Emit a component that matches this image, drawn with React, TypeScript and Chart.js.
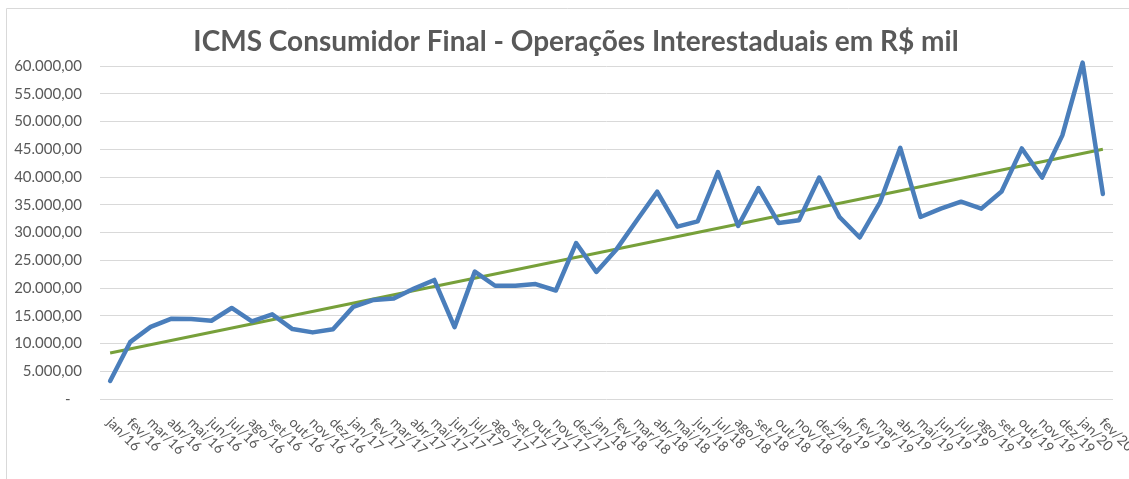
import React, { useEffect, useRef } from "react";
import { Chart, registerables } from "chart.js";

Chart.register(...registerables);

const chartTitle = "ICMS Consumidor Final - Operações Interestaduais em R$ mil";

const months = [
  "jan/16", "fev/16", "mar/16", "abr/16", "mai/16", "jun/16", "jul/16", "ago/16", "set/16", "out/16", "nov/16", "dez/16",
  "jan/17", "fev/17", "mar/17", "abr/17", "mai/17", "jun/17", "jul/17", "ago/17", "set/17", "out/17", "nov/17", "dez/17",
  "jan/18", "fev/18", "mar/18", "abr/18", "mai/18", "jun/18", "jul/18", "ago/18", "set/18", "out/18", "nov/18", "dez/18",
  "jan/19", "fev/19", "mar/19", "abr/19", "mai/19", "jun/19", "jul/19", "ago/19", "set/19", "out/19", "nov/19", "dez/19",
  "jan/20", "fev/20",
];

const icmsValues = [
  3250, 10300, 13000, 14450, 14400, 14100, 16400, 14000, 15250, 12600, 12000, 12550,
  16600, 17850, 18100, 19900, 21450, 12950, 22950, 20400, 20400, 20700, 19550, 28100,
  22900, 27000, 32200, 37350, 31050, 32000, 40900, 31200, 38000, 31700, 32200, 39900,
  32800, 29100, 35450, 45250, 32800, 34300, 35550, 34300, 37400, 45150, 39900, 47500,
  60600, 36950,
];

const trendStart = 8300;
const trendEnd = 45000;

const yTicks = [0, 5000, 10000, 15000, 20000, 25000, 30000, 35000, 40000, 45000, 50000, 55000, 60000];

function formatBR(v: number): string {
  if (v === 0) return "-   ";
  const intPart = Math.round(v).toString().replace(/\B(?=(\d{3})+(?!\d))/g, ".");
  return intPart + ",00";
}

const textColor = "#595959";
const gridColor = "#d9d9d9";

const decorPlugin = {
  id: "decor",
  beforeDraw(chart: any) {
    const ctx = chart.ctx;
    ctx.save();
    ctx.strokeStyle = gridColor;
    ctx.lineWidth = 1;
    ctx.beginPath();
    ctx.moveTo(6.5, chart.height);
    ctx.lineTo(6.5, 8.5);
    ctx.lineTo(chart.width, 8.5);
    ctx.stroke();
    ctx.restore();
  },
  afterDraw(chart: any) {
    const ctx = chart.ctx;
    const xScale = chart.scales.x;
    ctx.save();
    // title
    ctx.fillStyle = textColor;
    ctx.font = "bold 28px Lato";
    ctx.textAlign = "center";
    ctx.textBaseline = "middle";
    ctx.fillText(chartTitle, 576, 42);
    // rotated x labels
    ctx.font = "14px Lato";
    ctx.textAlign = "left";
    ctx.textBaseline = "middle";
    const baseY = chart.chartArea.bottom + 21;
    months.forEach((label, i) => {
      const x = xScale.getPixelForTick(i);
      ctx.save();
      ctx.translate(x - 1, baseY);
      ctx.rotate(Math.PI / 4);
      ctx.fillText(label, 0, 0);
      ctx.restore();
    });
    ctx.restore();
  },
};

export default function App() {
  const canvasRef = useRef<HTMLCanvasElement | null>(null);

  useEffect(() => {
    if (!canvasRef.current) return;
    const trendData = months.map((_, i) =>
      i === 0 ? trendStart : i === months.length - 1 ? trendEnd : null
    );
    const chart = new Chart(canvasRef.current, {
      type: "line",
      data: {
        labels: months,
        datasets: [
          {
            label: "ICMS",
            data: icmsValues,
            borderColor: "#4a7ebb",
            borderWidth: 4.5,
            pointRadius: 0,
            tension: 0,
            fill: false,
            clip: false as any,
            borderJoinStyle: "round",
            borderCapStyle: "round",
          },
          {
            label: "Tendência",
            data: trendData,
            borderColor: "#77a03a",
            borderWidth: 3,
            pointRadius: 0,
            spanGaps: true,
            fill: false,
            clip: false as any,
          },
        ],
      },
      options: {
        animation: false,
        responsive: false,
        maintainAspectRatio: false,
        events: [],
        layout: { padding: { left: 0, right: 16, top: 66, bottom: 72 } },
        plugins: {
          legend: { display: false },
          title: { display: false },
          tooltip: { enabled: false },
        },
        scales: {
          x: {
            type: "category",
            offset: true,
            grid: { display: false },
            border: { display: false },
            ticks: { display: false },
          },
          y: {
            min: 0,
            max: 60000,
            afterFit: (scale: any) => {
              scale.width = 100;
            },
            afterBuildTicks: (scale: any) => {
              scale.ticks = yTicks.map((v) => ({ value: v }));
            },
            border: { display: false },
            grid: { color: gridColor, lineWidth: 1, drawTicks: false },
            ticks: {
              padding: 18,
              color: textColor,
              font: { family: "Lato", size: 15 },
              callback: (v: any) => formatBR(Number(v)),
            },
          },
        },
      },
      plugins: [decorPlugin],
    });
    return () => chart.destroy();
  }, []);

  return (
    <div style={{ position: "absolute", left: 0, top: 0, width: 1129, height: 479, background: "#fff" }}>
      <canvas ref={canvasRef} width={1129} height={479} style={{ width: 1129, height: 479 }} />
    </div>
  );
}
